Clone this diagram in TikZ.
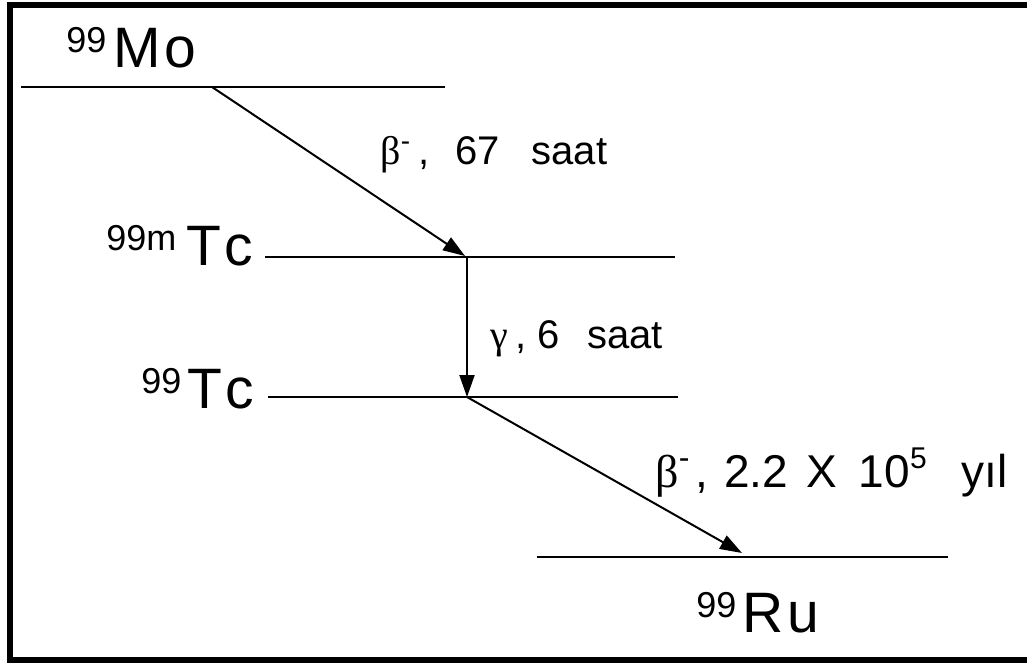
\documentclass[tikz,border=0pt]{standalone}
\usepackage{fontspec}
\setmainfont{Liberation Sans}
\newfontfamily\grk{Liberation Serif}
\usetikzlibrary{arrows.meta}
\definecolor{lvlInk}{HTML}{000000}
\definecolor{lvlPaper}{HTML}{FFFFFF}
% mass number raised to the cap line, then the element symbol
\newcommand{\nuc}[3][3pt]{\raisebox{7.5pt}{\fontsize{18}{18}\selectfont #2}\kern#1 #3}
\tikzset{
  level/.style  = {line width=1.3pt, color=lvlInk},
  decay/.style  = {line width=1pt, color=lvlInk,
                   -{Triangle[length=11pt,width=7.5pt]}},
  frame/.style  = {line width=3pt, color=lvlInk},
  iso/.style    = {anchor=base west, inner sep=0,
                   font=\fontsize{28.5}{30}\selectfont},
  lbl/.style    = {anchor=base west, inner sep=0,
                   font=\fontsize{20}{22}\selectfont},
}
\begin{document}
\begin{tikzpicture}[x=0.5pt, y=-0.5pt]

\useasboundingbox (0,0) rectangle (1027,663);
\fill[lvlPaper] (0,0) rectangle (1027,663);
\draw[frame] (10,5) rectangle (1040,660);

% --- energy levels ---
\coordinate (mo-l)  at (21,87);   \coordinate (mo-r)  at (445,87);
\coordinate (tcm-l) at (265,257); \coordinate (tcm-r) at (675,257);
\coordinate (tc-l)  at (268,397); \coordinate (tc-r)  at (678,397);
\coordinate (ru-l)  at (537,557); \coordinate (ru-r)  at (948,557);

\draw[level] (mo-l) -- (mo-r);
\draw[level] (tcm-l) -- (tcm-r);
\draw[level] (tc-l) -- (tc-r);
\draw[level] (ru-l) -- (ru-r);

% --- level names ---
\node[iso] (mo)  at (66,68)   {\nuc[3.5pt]{99}{M\kern2pt o}};
\node[iso] (tcm) at (106,265) {\nuc[5pt]{99m}{T\kern1.5pt c}};
\node[iso] (tc)  at (141,408) {\nuc[3pt]{99}{T\kern1.5pt c}};
\node[iso] (ru)  at (696,632) {\nuc[3pt]{99}{R\kern2pt u}};

% --- decay points on the levels ---
\coordinate (mo-out)  at (212,87);
\coordinate (tcm-in)  at (465,256);
\coordinate (tcm-out) at (467,257);
\coordinate (tc-in)   at (467,397);
\coordinate (tc-out)  at (467,397);
\coordinate (ru-in)   at (742,553);

\draw[decay] (mo-out) -- (tcm-in);
\draw[decay] (tcm-out) -- (tc-in);
\draw[decay] (tc-out) -- (ru-in);

% --- decay labels ---
\node[lbl] (beta1) at (380,165)
  {{\grk β}\raisebox{7pt}{\fontsize{14}{14}\selectfont -}\kern4pt,\kern13pt 67\kern16pt saat};
\node[lbl] (gam) at (490,348)
  {{\grk γ}\kern3.5pt,\kern5.5pt 6\kern14pt saat};
\node[lbl, font=\fontsize{23}{25}\selectfont] (beta2) at (655,487)
  {{\grk β}\raisebox{9.3pt}{\fontsize{16}{16}\selectfont -}\kern3pt,\kern8pt 2.2\kern9pt X\kern11pt 10\raisebox{9.5pt}{\fontsize{15}{15}\selectfont 5}\kern17.5pt yıl};

\end{tikzpicture}
\end{document}
